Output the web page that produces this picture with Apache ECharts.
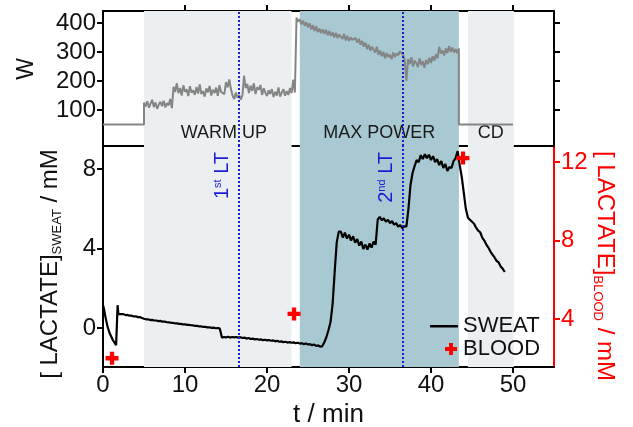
<!DOCTYPE html>
<html>
<head>
<meta charset="utf-8">
<script src="https://cdn.jsdelivr.net/npm/echarts@6/dist/echarts.min.js"></script>
<style>
  html, body { margin: 0; padding: 0; background: #fff; }
  #chart { width: 633px; height: 427px; }
</style>
</head>
<body>
<div id="chart"></div>
<script>
// ---------- data ----------
// exercise phases (minutes)
const phaseNames = ['WARM UP', 'MAX POWER', 'CD'];
const phaseStart = [5, 24, 44.5];
const phaseEnd = [23, 43.4, 50.1];

// lactate thresholds (minutes)
const ltTimes = [16.5, 36.5];
const ltLabels = ['1{s|st} LT', '2{s|nd} LT'];

// axis ticks
const timeTicks = [0, 10, 20, 30, 40, 50];
const timeTopTicks = [10, 20, 30, 40, 50];
const powerTicks = [100, 200, 300, 400];
const sweatTicks = [0, 4, 8];
const bloodTicks = [4, 8, 12];

// power (W): resting/cool-down segments and the sampled ride
const powerRest = [[0, 50], [5.0, 50]];
const powerCoolDown = [[43.4, 50], [50.0, 50]];
const POWER_T0 = 5.0;   // first ride sample (min)
const POWER_DT = 0.2;   // sample spacing (min)
const powerSamples = [
  125,112,130,108,122,135,110,126,104,119,
  128,113,132,109,124,116,138,106,180,162,
  192,158,176,150,185,163,171,148,182,160,
  168,152,179,157,188,155,165,146,174,161,
  183,150,170,158,177,149,186,162,168,155,
  196,178,205,172,150,138,160,142,152,136,
  150,218,175,190,158,184,166,192,155,178,
  170,186,152,175,160,148,168,155,172,145,
  163,150,178,146,160,172,149,165,152,176,
  158,205,160,418,405,412,395,408,390,402,
  385,398,378,392,372,388,368,380,365,378,
  362,376,358,372,355,368,350,366,348,360,
  352,345,362,340,355,338,350,342,336,348,
  332,345,325,338,318,332,310,325,305,318,
  312,298,318,290,305,285,300,278,296,282,
  290,275,298,282,295,288,302,305,290,270,
  200,275,258,282,250,270,262,248,278,255,
  268,245,272,258,280,262,285,270,292,278,
  318,295,305,288,312,296,320,300,315,298,
  310,296,312
];

// sweat lactate (mM): sensor start-up transient, then sampled trace
const sweatStart = [
  [0, 1.16], [0.1, 1.0], [0.3, 0.55], [0.55, 0.08], [0.8, -0.25],
  [1.2, -0.6], [1.6, -0.86], [1.7, -0.88], [1.78, 1.15], [1.88, 0.7]
];
const SWEAT_T0 = 2.0;
const SWEAT_DT = 0.25;
const sweatSamples = [
  0.74, 0.70, 0.70, 0.65, 0.66, 0.62, 0.62, 0.58, 0.59, 0.55, 0.55, 0.51,
  0.47, 0.44, 0.44, 0.40, 0.41, 0.38, 0.38, 0.35, 0.36, 0.32, 0.33, 0.30,
  0.29, 0.27, 0.26, 0.24, 0.24, 0.21, 0.21, 0.18, 0.19, 0.16, 0.16, 0.14,
  0.13, 0.11, 0.11, 0.08, 0.08, 0.06, 0.06, 0.03, 0.04, 0.01, 0.02, -0.01,
  0.00, -0.03, -0.48, -0.45, -0.47, -0.44, -0.48, -0.45, -0.47, -0.45, -0.48, -0.46,
  -0.50, -0.48, -0.53, -0.50, -0.55, -0.53, -0.57, -0.55, -0.59, -0.57, -0.61, -0.59,
  -0.62, -0.60, -0.64, -0.62, -0.67, -0.64, -0.69, -0.67, -0.71, -0.69, -0.73, -0.71,
  -0.74, -0.72, -0.76, -0.74, -0.78, -0.76, -0.81, -0.78, -0.83, -0.81, -0.86, -0.83,
  -0.90, -0.87, -0.94, -0.91, -0.70, -0.45, -0.10, 0.30, 1.20, 2.80, 4.30, 4.85,
  4.85, 4.55, 4.80, 4.50, 4.70, 4.40, 4.62, 4.30, 4.48, 4.15, 4.35, 3.98,
  4.20, 3.95, 4.25, 4.05, 4.35, 4.20, 5.45, 5.60, 5.42, 5.52, 5.35, 5.45,
  5.28, 5.38, 5.20, 5.28, 5.10, 5.18, 5.02, 5.12, 5.10, 6.00, 7.20, 7.80,
  8.15, 8.45, 8.35, 8.70, 8.50, 8.75, 8.55, 8.72, 8.45, 8.65, 8.35, 8.50,
  8.20, 8.40, 8.05, 8.25, 7.90, 8.10, 8.05, 8.40, 8.55, 8.90, 8.20, 7.60,
  6.80, 6.00, 5.55, 5.45, 5.35, 5.25, 5.05, 4.90, 4.82, 4.55, 4.40, 4.20,
  4.05, 3.85, 3.70, 3.55, 3.38, 3.30, 3.10, 2.98, 2.82
];

// blood lactate (mM)
const bloodTime = [1.1, 23.3, 43.9];
const bloodValues = [2.0, 4.26, 12.2];

// ---------- assemble series data ----------
const powerData = powerRest
  .concat(powerSamples.map((v, i) => [+(POWER_T0 + i * POWER_DT).toFixed(2), v]))
  .concat(powerCoolDown);
const sweatData = sweatStart
  .concat(sweatSamples.map((v, i) => [+(SWEAT_T0 + i * SWEAT_DT).toFixed(2), v]));
const bloodData = bloodTime.map((t, i) => [t, bloodValues[i]]);

// ---------- styling ----------
const FONT = '"Liberation Sans", Arial, Helvetica, sans-serif';
const INK = '#111';
const RED = '#ff0000';
const LT_BLUE = '#1c1cd4';
const phaseColors = ['#eceff1', '#a9c9d2', '#eceff1'];
const CROSS = 'path://M4,0H8V4H12V8H8V12H4V8H0V4H4Z';

const GRID_LEFT = 103, GRID_RIGHT = 79;

function phaseAreas(withLabels) {
  return phaseNames.map((n, i) => [
    {
      xAxis: phaseStart[i],
      name: n,
      itemStyle: { color: phaseColors[i] },
      label: withLabels
        ? { show: true, position: 'insideBottom', distance: 4,
            offset: i === 0 ? [6, 0] : [0, 0],
            fontSize: 18, color: '#1a1a1a', fontFamily: FONT }
        : { show: false }
    },
    { xAxis: phaseEnd[i] }
  ]);
}

function ltLines(withLabels) {
  return {
    silent: true,
    symbol: ['none', 'none'],
    lineStyle: { color: LT_BLUE, type: 'dotted', width: 2 },
    label: withLabels
      ? {
          show: true, position: 'insideEndTop', distance: 6,
          color: LT_BLUE, fontSize: 20, fontFamily: FONT,
          rich: { s: { fontSize: 11, lineHeight: 11, verticalAlign: 'top', color: LT_BLUE, fontFamily: FONT } }
        }
      : { show: false },
    data: ltTimes.map((t, i) => ({ xAxis: t, label: withLabels ? { formatter: ltLabels[i] } : { show: false } }))
  };
}

const blackAxisLine = { show: true, onZero: false, lineStyle: { color: '#000', width: 2 } };
const redAxisLine = { show: true, onZero: false, lineStyle: { color: RED, width: 2 } };
const tickStyle = (color) => ({ show: true, length: 6, lineStyle: { color, width: 2 } });

const chart = echarts.init(document.getElementById('chart'), null, { renderer: 'canvas' });

chart.setOption({
  animation: false,
  backgroundColor: '#fff',
  textStyle: { fontFamily: FONT },
  grid: [
    { left: GRID_LEFT, right: GRID_RIGHT, top: 11, height: 135, containLabel: false, outerBoundsMode: 'none' },
    { left: GRID_LEFT, right: GRID_RIGHT, top: 146, height: 221, containLabel: false, outerBoundsMode: 'none' }
  ],
  xAxis: [
    { // top panel, upper edge with ticks
      gridIndex: 0, type: 'value', position: 'top', min: 0, max: 55,
      axisLine: blackAxisLine,
      axisTick: Object.assign(tickStyle('#000'), { customValues: timeTopTicks }),
      axisLabel: { show: false }, splitLine: { show: false }
    },
    { // top panel, lower edge (separator)
      gridIndex: 0, type: 'value', position: 'bottom', min: 0, max: 55,
      axisLine: blackAxisLine, axisTick: { show: false },
      axisLabel: { show: false }, splitLine: { show: false }
    },
    { // time axis
      gridIndex: 1, type: 'value', position: 'bottom', min: 0, max: 55,
      axisLine: blackAxisLine,
      axisTick: Object.assign(tickStyle('#000'), { customValues: timeTicks }),
      axisLabel: { customValues: timeTicks, fontSize: 24, color: INK, margin: 6, fontFamily: FONT },
      splitLine: { show: false },
      name: 't / min', nameLocation: 'middle', nameGap: 31,
      nameTextStyle: { fontSize: 26, color: INK, fontFamily: FONT }
    }
  ],
  yAxis: [
    { // power
      gridIndex: 0, type: 'value', position: 'left', min: -24, max: 441,
      axisLine: blackAxisLine,
      axisTick: Object.assign(tickStyle('#000'), { customValues: powerTicks }),
      axisLabel: { customValues: powerTicks, fontSize: 24, color: INK, margin: 7, fontFamily: FONT },
      splitLine: { show: false }
    },
    {
      gridIndex: 0, type: 'value', position: 'right', min: -24, max: 441,
      axisLine: blackAxisLine,
      axisTick: Object.assign(tickStyle('#000'), { customValues: powerTicks }),
      axisLabel: { show: false }, splitLine: { show: false }
    },
    { // sweat lactate
      gridIndex: 1, type: 'value', position: 'left', min: -1.96, max: 9.16,
      axisLine: blackAxisLine,
      axisTick: Object.assign(tickStyle('#000'), { customValues: sweatTicks }),
      axisLabel: { customValues: sweatTicks, fontSize: 24, color: INK, margin: 7, fontFamily: FONT },
      splitLine: { show: false }
    },
    { // blood lactate
      gridIndex: 1, type: 'value', position: 'right', min: 1.555, max: 12.815,
      axisLine: redAxisLine,
      axisTick: Object.assign(tickStyle(RED), { customValues: bloodTicks }),
      axisLabel: { customValues: bloodTicks, fontSize: 24, color: RED, margin: 7, fontFamily: FONT },
      splitLine: { show: false }
    }
  ],
  legend: {
    left: 430, top: 315, orient: 'vertical', padding: 0,
    itemWidth: 28, itemHeight: 14, itemGap: 1, selectedMode: false,
    textStyle: { fontSize: 22, color: INK, fontFamily: FONT },
    data: [
      { name: 'SWEAT', icon: 'path://M0,0M28,14M0,6H28V8.5H0Z' },
      { name: 'BLOOD', icon: 'path://M0,0M28,14M19,1H23V5H27V9H23V13H19V9H15V5H19Z' }
    ]
  },
  graphic: [
    {
      type: 'text', x: 27, y: 69, rotation: Math.PI / 2,
      style: { text: 'W', font: '23px ' + FONT, fill: INK, align: 'center', verticalAlign: 'middle' }
    },
    {
      type: 'text', x: 50, y: 264, rotation: Math.PI / 2,
      style: {
        text: '[ LACTATE]{s|SWEAT} / mM',
        font: '24px ' + FONT, fill: INK, align: 'center', verticalAlign: 'middle', lineHeight: 28,
        rich: { s: { fontSize: 13, lineHeight: 14, verticalAlign: 'bottom', fill: INK, fontFamily: FONT } }
      }
    },
    {
      type: 'text', x: 605, y: 266, rotation: -Math.PI / 2,
      style: {
        text: '[ LACTATE]{s|BLOOD} / mM',
        font: '24px ' + FONT, fill: RED, align: 'center', verticalAlign: 'middle', lineHeight: 28,
        rich: { s: { fontSize: 13, lineHeight: 14, verticalAlign: 'bottom', fill: RED, fontFamily: FONT } }
      }
    }
  ],
  series: [
    {
      name: 'POWER', type: 'line', xAxisIndex: 0, yAxisIndex: 0,
      data: powerData, showSymbol: false, symbol: 'none',
      lineStyle: { color: '#858585', width: 2 }, itemStyle: { color: '#858585' },
      markArea: { silent: true, data: phaseAreas(true) },
      markLine: ltLines(false),
      z: 3
    },
    {
      name: 'SWEAT', type: 'line', xAxisIndex: 2, yAxisIndex: 2,
      data: sweatData, showSymbol: false, symbol: 'none',
      lineStyle: { color: '#000', width: 2.2 }, itemStyle: { color: '#000' },
      markArea: { silent: true, data: phaseAreas(false) },
      markLine: ltLines(true),
      z: 3
    },
    {
      name: 'BLOOD', type: 'scatter', xAxisIndex: 2, yAxisIndex: 3,
      data: bloodData, symbol: CROSS, symbolSize: 13,
      itemStyle: { color: RED, opacity: 1 },
      z: 4
    }
  ]
});
</script>
</body>
</html>
